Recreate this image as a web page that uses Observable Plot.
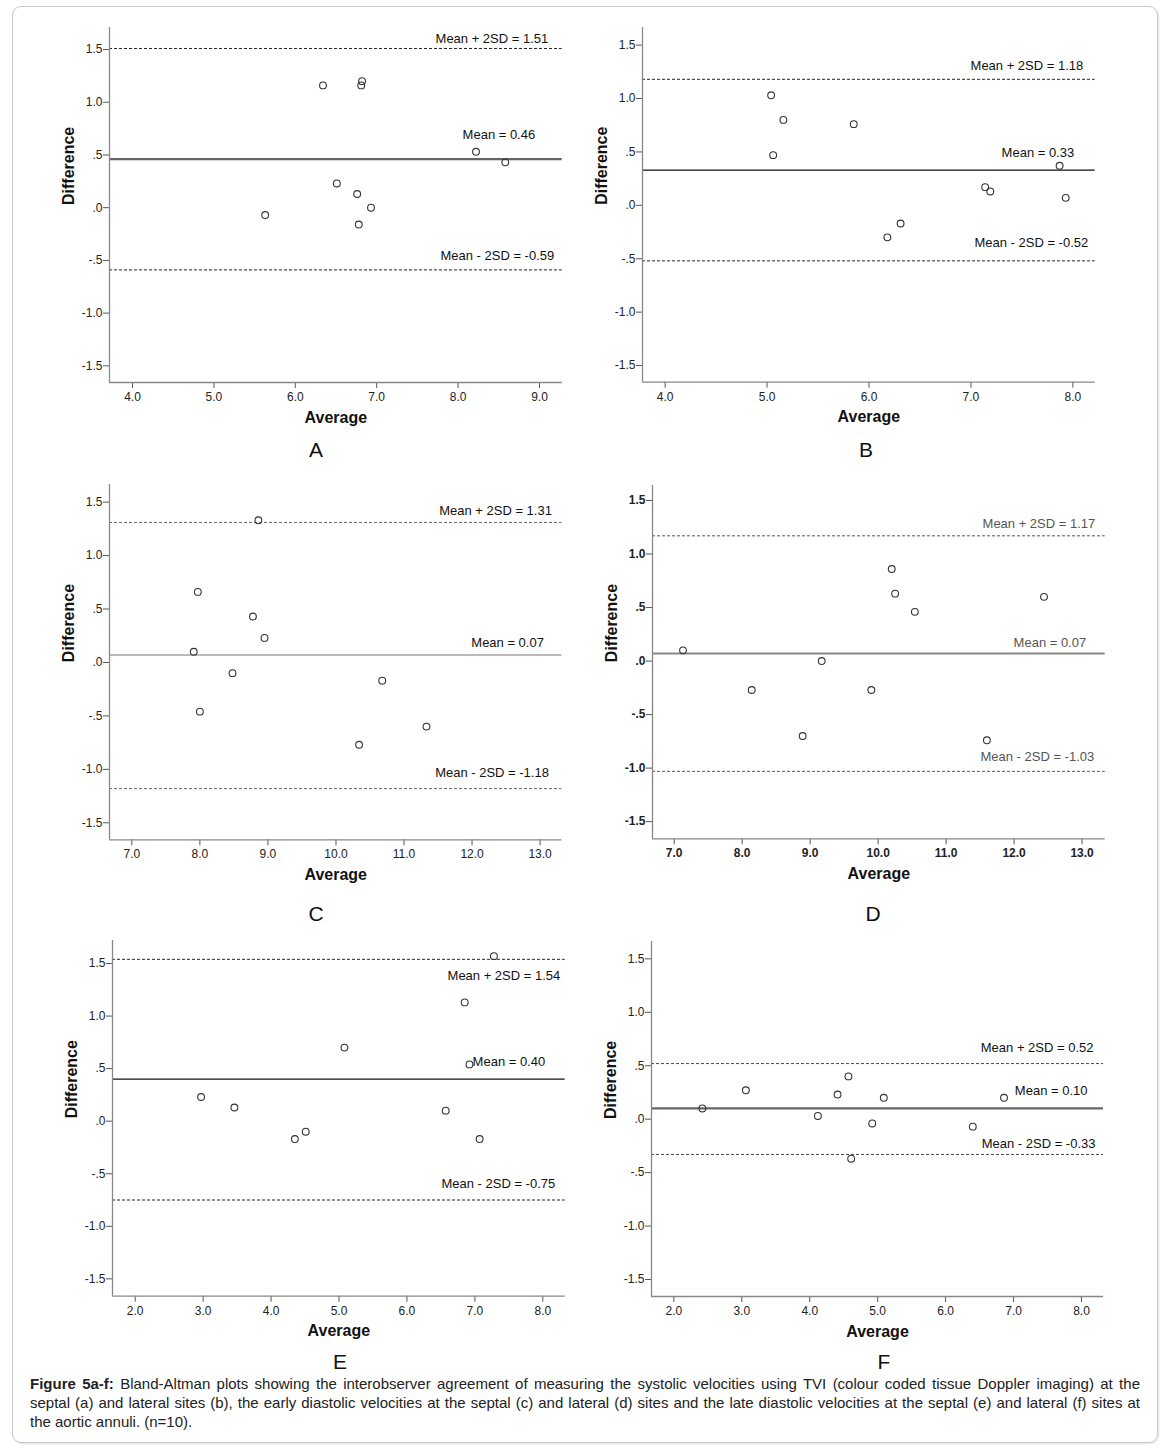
<!DOCTYPE html>
<html>
<head>
<meta charset="utf-8">
<script src="https://cdn.jsdelivr.net/npm/d3@7"></script>
<script src="https://cdn.jsdelivr.net/npm/@observablehq/plot@0.6"></script>
<style>
  html, body { margin: 0; padding: 0; background: #fff; }
  #page { position: relative; width: 1168px; height: 1454px; font-family: "Liberation Sans", Arial, sans-serif; color: #222; }
  #border { position: absolute; left: 12px; top: 6px; width: 1144px; height: 1435px; border: 1px solid #c9c9c9; border-radius: 9px; box-shadow: 1px 1px 2px rgba(0,0,0,0.12); }
  .panel { position: absolute; }
  .letter { position: absolute; font-size: 21px; transform: translate(-50%, -50%); color: #111; }
  #caption { position: absolute; left: 30px; top: 1374px; width: 1110px; font-size: 15px; line-height: 19px; color: #222; }
  #caption div { text-align: justify; text-align-last: justify; white-space: nowrap; }
  #caption div.last { text-align-last: left; }
</style>
</head>
<body>
<div id="page">
  <div id="border"></div>
</div>
<script>
// ---- Data ----
const panelNames = ["A", "B", "C", "D", "E", "F"];

const aAverage = [6.34, 6.82, 6.81, 8.22, 8.58, 6.51, 6.76, 6.93, 5.63, 6.78];
const aDifference = [1.16, 1.20, 1.16, 0.53, 0.43, 0.23, 0.13, 0.00, -0.07, -0.16];
const aLimits = [1.51, 0.46, -0.59];

const bAverage = [5.04, 5.16, 5.06, 5.85, 7.14, 7.19, 7.87, 7.93, 6.18, 6.31];
const bDifference = [1.03, 0.80, 0.47, 0.76, 0.17, 0.13, 0.37, 0.07, -0.30, -0.17];
const bLimits = [1.18, 0.33, -0.52];

const cAverage = [8.86, 7.97, 8.78, 8.95, 7.91, 8.48, 8.00, 10.68, 10.34, 11.33];
const cDifference = [1.33, 0.66, 0.43, 0.23, 0.10, -0.10, -0.46, -0.17, -0.77, -0.60];
const cLimits = [1.31, 0.07, -1.18];

const dAverage = [7.13, 8.14, 8.89, 9.17, 9.90, 10.20, 10.25, 10.54, 12.44, 11.60];
const dDifference = [0.10, -0.27, -0.70, 0.00, -0.27, 0.86, 0.63, 0.46, 0.60, -0.74];
const dLimits = [1.17, 0.07, -1.03];

const eAverage = [7.28, 6.85, 5.08, 6.92, 2.97, 3.46, 4.35, 4.51, 6.57, 7.07];
const eDifference = [1.57, 1.13, 0.70, 0.54, 0.23, 0.13, -0.17, -0.10, 0.10, -0.17];
const eLimits = [1.54, 0.40, -0.75];

const fAverage = [2.42, 3.06, 4.12, 4.41, 4.57, 4.61, 4.92, 5.09, 6.40, 6.86];
const fDifference = [0.10, 0.27, 0.03, 0.23, 0.40, -0.37, -0.04, 0.20, -0.07, 0.20];
const fLimits = [0.52, 0.10, -0.33];

const yTicks = [-1.5, -1.0, -0.5, 0.0, 0.5, 1.0, 1.5];
const yTickLabels = ["-1.5", "-1.0", "-.5", ".0", ".5", "1.0", "1.5"];
const xTicksA = [4, 5, 6, 7, 8, 9];
const xTicksB = [4, 5, 6, 7, 8];
const xTicksCD = [7, 8, 9, 10, 11, 12, 13];
const xTicksEF = [2, 3, 4, 5, 6, 7, 8];

const limitPrefixes = ["Mean + 2SD = ", "Mean = ", "Mean - 2SD = "];
const xTitle = "Average";
const yTitle = "Difference";
const captionLines = [
  ["Figure 5a-f:", " Bland-Altman plots showing the interobserver agreement of measuring the systolic velocities using TVI (colour coded tissue Doppler imaging) at the"],
  ["", "septal (a) and lateral sites (b), the early diastolic velocities at the septal (c) and lateral (d) sites and the late diastolic velocities at the septal (e) and lateral (f) sites at"],
  ["", "the aortic annuli. (n=10)."]
];

// ---- Layout / style (not data) ----
const panels = [
  {avg: aAverage, diff: aDifference, lim: aLimits, xTicks: xTicksA,
   frame: {l: 109.3, t: 27, r: 562, b: 382}, xd: [3.717, 9.279], yd: [-1.658, 1.709],
   letter: [316, 450],
   meanStyle: {stroke: "#666", w: 2.2}, dashStyle: {stroke: "#222", w: 1},
   lab: [[-14, -10], [-27, -24], [-8, -14.5]]},
  {avg: bAverage, diff: bDifference, lim: bLimits, xTicks: xTicksB,
   frame: {l: 642.3, t: 27, r: 1095, b: 381.7}, xd: [3.778, 8.219], yd: [-1.656, 1.665],
   letter: [866, 450],
   meanStyle: {stroke: "#111", w: 1.2}, dashStyle: {stroke: "#222", w: 1},
   lab: [[-12, -13.5], [-21, -17], [-7, -17.6]]},
  {avg: cAverage, diff: cDifference, lim: cLimits, xTicks: xTicksCD,
   frame: {l: 109.3, t: 484, r: 561.7, b: 839.3}, xd: [6.672, 13.32], yd: [-1.659, 1.665],
   letter: [316, 914],
   meanStyle: {stroke: "#777", w: 1.2}, dashStyle: {stroke: "#666", w: 1},
   lab: [[-10, -12], [-18, -12.5], [-13, -16]]},
  {avg: dAverage, diff: dDifference, lim: dLimits, xTicks: xTicksCD,
   frame: {l: 652.3, t: 485, r: 1105, b: 838.3}, xd: [6.681, 13.34], yd: [-1.66, 1.64],
   letter: [873, 914], boldTicks: true, labelColor: "#555",
   meanStyle: {stroke: "#888", w: 2}, dashStyle: {stroke: "#555", w: 1},
   lab: [[-10, -12], [-19, -11], [-11, -15]]},
  {avg: eAverage, diff: eDifference, lim: eLimits, xTicks: xTicksEF,
   frame: {l: 112.3, t: 940, r: 565, b: 1295.7}, xd: [1.666, 8.329], yd: [-1.665, 1.719],
   letter: [340, 1362],
   meanStyle: {stroke: "#111", w: 1.2}, dashStyle: {stroke: "#222", w: 1},
   lab: [[-5, 17], [-20, -17], [-10, -16]]},
  {avg: fAverage, diff: fDifference, lim: fLimits, xTicks: xTicksEF,
   frame: {l: 651.3, t: 941, r: 1103.3, b: 1296}, xd: [1.671, 8.324], yd: [-1.659, 1.662],
   letter: [884, 1362],
   meanStyle: {stroke: "#666", w: 2.2}, dashStyle: {stroke: "#444", w: 1},
   lab: [[-10, -15.4], [-16, -18], [-8, -11]]}
];

const page = document.getElementById("page");
const mL = 70, mT = 10, mR = 12, mB = 52;

panels.forEach((p, k) => {
  const rows = p.avg.map((a, i) => ({avg: a, diff: p.diff[i]}));
  const limRows = p.lim.map((v, i) => ({v, text: limitPrefixes[i] + v.toFixed(2), i}));
  const tickFont = "'Liberation Sans', Arial, sans-serif";
  const labelMarks = limRows.map(r => Plot.text([r], {
    y: "v", text: "text", frameAnchor: "right", textAnchor: "end",
    dx: p.lab[r.i][0], dy: p.lab[r.i][1], lineAnchor: "middle",
    fontSize: 13, fontWeight: "normal", fill: p.labelColor || "#111",
    fontFamily: "'Liberation Sans', Arial, sans-serif"
  }));
  const chart = Plot.plot({
    width: p.frame.r - p.frame.l + mL + mR,
    height: p.frame.b - p.frame.t + mT + mB,
    marginLeft: mL, marginRight: mR, marginTop: mT, marginBottom: mB,
    style: {fontSize: "12px", fontFamily: tickFont, fontWeight: p.boldTicks ? "bold" : "normal", color: "#222", background: "transparent", overflow: "visible"},
    x: {domain: p.xd},
    y: {domain: p.yd},
    marks: [
      Plot.ruleY([p.lim[0], p.lim[2]], {stroke: p.dashStyle.stroke, strokeWidth: p.dashStyle.w, strokeDasharray: "3,2"}),
      Plot.ruleY([p.lim[1]], {stroke: p.meanStyle.stroke, strokeWidth: p.meanStyle.w}),
      Plot.dot(rows, {x: "avg", y: "diff", r: 3.4, stroke: "#333", strokeWidth: 1.1, fill: "none"}),
      ...labelMarks,
      Plot.axisY({ticks: yTicks, tickFormat: d => yTickLabels[yTicks.indexOf(d)], tickSize: 6, tickPadding: 1, label: null, stroke: "#555", fill: "#222"}),
      Plot.axisX({ticks: p.xTicks, tickFormat: d3.format(".1f"), tickSize: 6, tickPadding: 4, label: null, stroke: "#555", fill: "#222"}),
      Plot.ruleX([p.xd[0]], {stroke: "#888", strokeWidth: 1.3}),
      Plot.ruleY([p.yd[0]], {stroke: "#888", strokeWidth: 1.3}),
      Plot.text([xTitle], {frameAnchor: "bottom", dy: 35, lineAnchor: "middle", fontSize: 16, fontWeight: "bold", fill: "#111", fontFamily: "'Liberation Sans', Arial, sans-serif"}),
      Plot.text([yTitle], {frameAnchor: "left", dx: -41, rotate: -90, lineAnchor: "middle", fontSize: 16, fontWeight: "bold", fill: "#111", fontFamily: "'Liberation Sans', Arial, sans-serif"})
    ]
  });
  const wrap = document.createElement("div");
  wrap.className = "panel";
  wrap.style.left = (p.frame.l - mL) + "px";
  wrap.style.top = (p.frame.t - mT) + "px";
  wrap.appendChild(chart);
  page.appendChild(wrap);

  const letter = document.createElement("div");
  letter.className = "letter";
  letter.style.left = p.letter[0] + "px";
  letter.style.top = p.letter[1] + "px";
  letter.textContent = panelNames[k];
  page.appendChild(letter);
});

const cap = document.createElement("div");
cap.id = "caption";
captionLines.forEach((ln, i) => {
  const d = document.createElement("div");
  if (i === captionLines.length - 1) d.className = "last";
  if (ln[0]) {
    const b = document.createElement("b");
    b.textContent = ln[0];
    d.appendChild(b);
  }
  d.appendChild(document.createTextNode(ln[1]));
  cap.appendChild(d);
});
page.appendChild(cap);
</script>
</body>
</html>
